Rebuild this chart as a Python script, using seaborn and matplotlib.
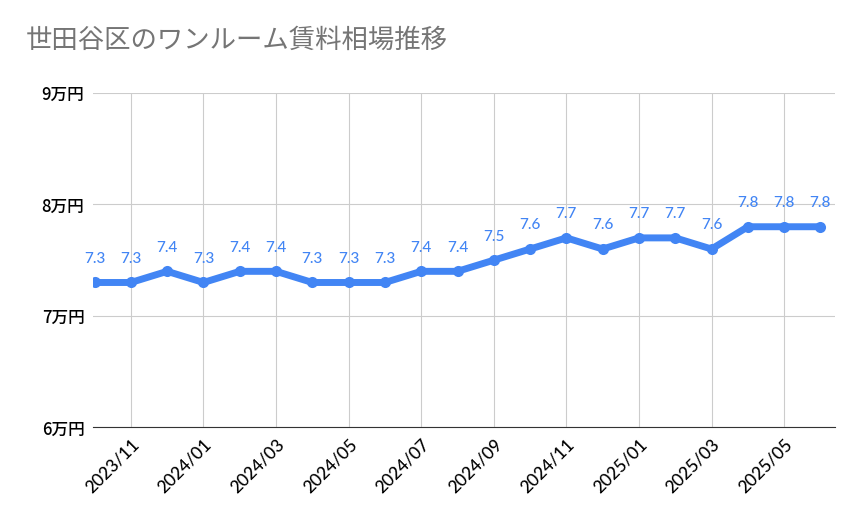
import matplotlib
matplotlib.use("Agg")
import matplotlib.pyplot as plt
import seaborn as sns
import pandas as pd

months = ["2023/10", "2023/11", "2023/12", "2024/01", "2024/02", "2024/03", "2024/04",
          "2024/05", "2024/06", "2024/07", "2024/08", "2024/09", "2024/10", "2024/11",
          "2024/12", "2025/01", "2025/02", "2025/03", "2025/04", "2025/05", "2025/06"]
rent = [7.3, 7.3, 7.4, 7.3, 7.4, 7.4, 7.3, 7.3, 7.3, 7.4, 7.4, 7.5, 7.6, 7.7,
        7.6, 7.7, 7.7, 7.6, 7.8, 7.8, 7.8]
y_ticks = [6, 7, 8, 9]

plt.rcParams["font.family"] = ["Lato", "Noto Sans CJK JP"]
blue = "#4285f4"

df = pd.DataFrame({"i": range(len(months)), "rent": rent})
fig, ax = plt.subplots(figsize=(8.59, 5.31), dpi=100)
fig.subplots_adjust(left=0.108, right=0.972, top=0.825, bottom=0.195)

sns.lineplot(data=df, x="i", y="rent", ax=ax, color=blue, linewidth=5,
             marker="o", markersize=8, markeredgewidth=0, zorder=3)
for i, v in enumerate(rent):
    ax.annotate(f"{v}", (i, v), xytext=(0, 12), textcoords="offset points",
                ha="center", va="bottom", color=blue, fontsize=11, fontweight="medium")

ax.set_xlim(-0.05, len(months) - 0.6)
ax.set_ylim(6, 9)
ax.set_yticks(y_ticks)
ax.set_yticklabels([f"{t}万円" for t in y_ticks], fontfamily="Noto Sans CJK JP",
                   fontsize=12, fontweight="medium")
xt = list(range(1, len(months), 2))
ax.set_xticks(xt)
ax.set_xticklabels([months[i] for i in xt], rotation=45, ha="right",
                   rotation_mode="anchor", fontsize=12.5, fontweight="medium")
ax.grid(True, color="#cccccc", linewidth=0.8)
ax.tick_params(length=0, pad=6)
for s in ax.spines.values():
    s.set_visible(False)
ax.spines["bottom"].set_visible(True)
ax.spines["bottom"].set_color("#333333")
ax.set_xlabel("")
ax.set_ylabel("")
fig.text(0.03, 0.91, "世田谷区のワンルーム賃料相場推移", fontsize=19, color="#757575",
         fontfamily="Noto Sans CJK JP")
fig.savefig("out.png", dpi=100)
